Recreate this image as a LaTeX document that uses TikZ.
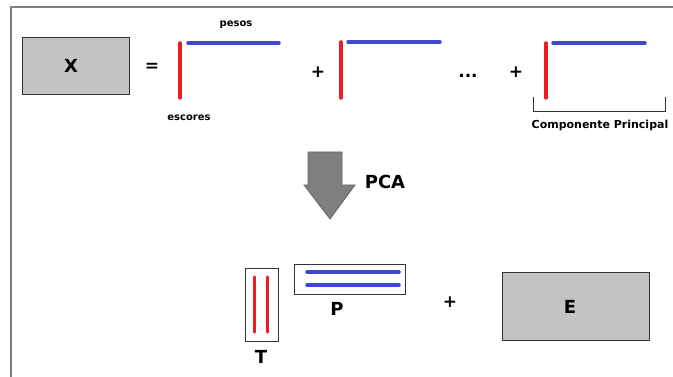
\documentclass[tikz,border=0pt]{standalone}
\usepackage{fontspec}
\setmainfont{DejaVu Sans}
\definecolor{pred}{HTML}{ED1C24}
\definecolor{pblue}{HTML}{3F48CC}
\definecolor{boxgray}{HTML}{C3C3C3}
\definecolor{arrowgray}{HTML}{7F7F7F}
\definecolor{framegray}{HTML}{808080}
\begin{document}
\begin{tikzpicture}[x=1pt,y=-1pt,
  graybox/.style={draw=black!80,line width=1pt,fill=boxgray,inner sep=0pt},
  whitebox/.style={draw=black!80,line width=0.8pt,fill=white,inner sep=0pt},
  redline/.style={draw=pred,line width=3.5pt,line cap=round},
  blueline/.style={draw=pblue,line width=3.5pt,line cap=round},
  big/.style={font=\bfseries\fontsize{18}{21}\selectfont},
  op/.style={font=\bfseries\fontsize{17}{20}\selectfont},
  small/.style={font=\bfseries\fontsize{10}{12}\selectfont}]
\useasboundingbox (0,0) rectangle (673,377);
% frame
\draw[framegray,line width=1.5pt] (11,377) -- (11,7) -- (673,7);
% X
\node[graybox,minimum width=107pt,minimum height=57pt] (X) at (75.5,66.5) {};
\node[big] (xl) at (71,66) {X};
\node[op] (eq) at (152,67) {=};
% component 1
\draw[redline] (180,43) -- (180,98);
\draw[blueline] (188,43) -- (279,43);
\node[small] (pesos) at (236,25) {pesos};
\node[small] (escores) at (189,118) {escores};
\node[op] (plus1) at (318,72) {+};
% component 2
\draw[redline] (341,42) -- (341,98);
\draw[blueline] (348,42) -- (440,42);
\node[op] (dots) at (468,76) {...};
\node[op] (plus2) at (516,72) {+};
% component 3
\draw[redline] (546,43) -- (546,98);
\draw[blueline] (553,43) -- (645,43);
\draw[black!80,line width=0.8pt] (533,97) -- (533,111) -- (665,111) -- (665,97);
\node[small,font=\bfseries\fontsize{11}{13}\selectfont] (comp) at (600,125) {Componente Principal};
% PCA arrow
\draw[fill=arrowgray,draw=black!60,line width=0.8pt]
  (308,152) -- (342,152) -- (342,185) -- (355,185) -- (330,219) -- (304,185) -- (308,185) -- cycle;
\node[big] (pca) at (385,182) {PCA};
% T
\node[whitebox,minimum width=33pt,minimum height=73pt] (T) at (262,304.5) {};
\draw[redline] (254.5,277) -- (254.5,332);
\draw[redline] (267.5,277) -- (267.5,332);
\node[big] (tl) at (261,357) {T};
% P
\node[whitebox,minimum width=111pt,minimum height=30pt] (P) at (350,279) {};
\draw[blueline] (307,272) -- (399,272);
\draw[blueline] (307,285) -- (399,285);
\node[big] (pl) at (337,309) {P};
\node[op] (plus3) at (450,302) {+};
% E
\node[graybox,minimum width=147pt,minimum height=67pt] (E) at (576,306.5) {};
\node[big] (el) at (570,307) {E};
\end{tikzpicture}
\end{document}
